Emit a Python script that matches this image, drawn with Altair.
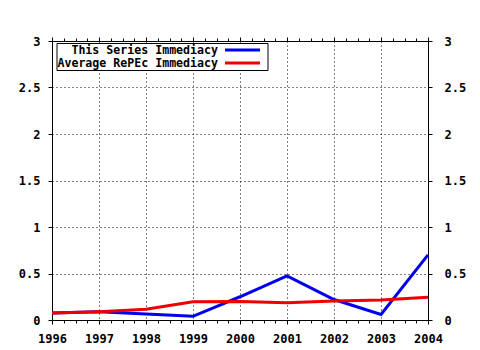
import altair as alt
import pandas as pd

years = [1996, 1997, 1998, 1999, 2000, 2001, 2002, 2003, 2004]
this_series = [0.075, 0.09, 0.065, 0.04, 0.25, 0.475, 0.22, 0.06, 0.70]
average_repec = [0.075, 0.09, 0.115, 0.195, 0.20, 0.185, 0.205, 0.215, 0.245]
series_names = ["This Series Immediacy", "Average RePEc Immediacy"]
series_colors = ["#0000ee", "#ee0000"]
y_ticks = [0, 0.5, 1, 1.5, 2, 2.5, 3]
minor_x = [1996 + q / 4 for q in range(0, 33) if q % 4 != 0]

df = pd.DataFrame({"year": years, "this": this_series, "avg": average_repec})
one = pd.DataFrame({"k": [0]})

FONT = "DejaVu Sans Mono"
xscale = alt.Scale(domain=[1996, 2004], nice=False, zero=False)
yscale = alt.Scale(domain=[0, 3], nice=False)

common_axis = dict(labelFont=FONT, labelFontSize=12, labelFontWeight="bold",
                   labelColor="black", domainColor="black", tickColor="black",
                   gridColor="black", gridDash=[1, 3], gridOpacity=1, gridWidth=1)

blue = alt.Chart(df).mark_line(color=series_colors[0], strokeWidth=3).encode(
    x=alt.X("year:Q", scale=xscale, title=None,
            axis=alt.Axis(orient="bottom", values=years, format="d", tickSize=4,
                          labelPadding=9, labelFlush=False, grid=True, **common_axis)),
    y=alt.Y("this:Q", scale=yscale, title=None,
            axis=alt.Axis(orient="left", values=y_ticks, format="~g", tickSize=4,
                          labelPadding=8, grid=True, **common_axis)),
)

red = alt.Chart(df).mark_line(color=series_colors[1], strokeWidth=3).encode(
    x=alt.X("year:Q", scale=xscale, title=None,
            axis=alt.Axis(orient="top", values=years, labels=False, tickSize=4,
                          grid=False, **common_axis)),
    y=alt.Y("avg:Q", scale=yscale, title=None,
            axis=alt.Axis(orient="right", values=y_ticks, format="~g", tickSize=4,
                          labelPadding=12, grid=False, **common_axis)),
)

minor_bottom = alt.Chart(df).mark_point(opacity=0).encode(
    x=alt.X("year:Q", scale=xscale, title=None,
            axis=alt.Axis(orient="bottom", values=minor_x, labels=False, tickSize=3,
                          domain=False, grid=False, tickColor="black")),
)
minor_top = alt.Chart(df).mark_point(opacity=0).encode(
    x=alt.X("year:Q", scale=xscale, title=None,
            axis=alt.Axis(orient="top", values=minor_x, labels=False, tickSize=3,
                          domain=False, grid=False, tickColor="black")),
)

legend_box = alt.Chart(one).mark_rect(fill="white", stroke="black", strokeWidth=1).encode(
    x=alt.value(5), x2=alt.value(216), y=alt.value(2.5), y2=alt.value(29.5))

legend_layers = []
row_y = [10, 23]
for i, name in enumerate(series_names):
    legend_layers.append(
        alt.Chart(one).mark_text(text=name, font=FONT, fontSize=11.6, fontWeight="bold",
                                 align="right", baseline="middle", color="black").encode(
            x=alt.value(166), y=alt.value(row_y[i]))
    )
    legend_layers.append(
        alt.Chart(one).mark_rule(color=series_colors[i], strokeWidth=3).encode(
            x=alt.value(173), x2=alt.value(208), y=alt.value(row_y[i] - 1))
    )

chart = alt.layer(blue, red, minor_bottom, minor_top, legend_box, *legend_layers).resolve_axis(
    x="independent", y="independent"
).properties(
    width=376, height=279,
    autosize=alt.AutoSizeParams(type="none"),
    padding={"left": 52, "top": 41, "right": 52, "bottom": 30},
    background="white",
).configure_view(stroke="black", strokeWidth=1)

chart.save("out.html", embed_options={"renderer": "svg", "actions": False})
